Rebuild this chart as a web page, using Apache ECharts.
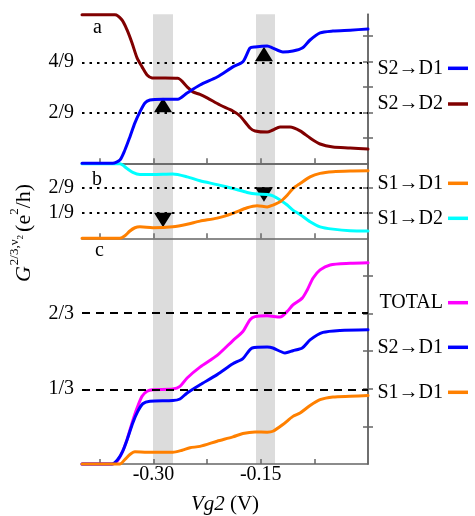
<!DOCTYPE html>
<html><head><meta charset="utf-8">
<script src="https://cdn.jsdelivr.net/npm/echarts@6/dist/echarts.min.js"></script>
<style>html,body{margin:0;padding:0;background:#fff}#c{width:475px;height:516px}</style>
</head><body><div id="c"></div>
<script>
// ---------- data (Vg2 in V, conductance in e^2/h) ----------
// panel a
const xS2D1a = [-0.400,-0.357,-0.347,-0.340,-0.333,-0.326,-0.319,-0.312,-0.305,-0.287,-0.266,-0.253,-0.235,-0.211,-0.189,-0.175,-0.165,-0.158,-0.141,-0.133,-0.119,-0.105,-0.092,-0.081,-0.067,-0.049,-0.025,0.000];
const yS2D1a = [0,0,0.014,0.058,0.115,0.176,0.224,0.263,0.276,0.279,0.279,0.306,0.341,0.376,0.420,0.442,0.502,0.507,0.511,0.502,0.485,0.489,0.502,0.537,0.568,0.576,0.580,0.585];
const xS2D2a = [-0.400,-0.354,-0.344,-0.337,-0.330,-0.323,-0.316,-0.309,-0.302,-0.266,-0.253,-0.245,-0.235,-0.225,-0.207,-0.189,-0.179,-0.165,-0.158,-0.141,-0.133,-0.123,-0.109,-0.095,-0.081,-0.067,-0.049,-0.025,0.000];
const yS2D2a = [0.647,0.647,0.624,0.581,0.524,0.459,0.420,0.385,0.372,0.370,0.333,0.311,0.300,0.285,0.254,0.228,0.206,0.154,0.141,0.136,0.145,0.158,0.158,0.141,0.110,0.084,0.071,0.067,0.062];
// panel b
const xS1D2b = [-0.400,-0.347,-0.337,-0.329,-0.319,-0.301,-0.273,-0.253,-0.235,-0.211,-0.189,-0.169,-0.155,-0.141,-0.133,-0.123,-0.113,-0.105,-0.095,-0.081,-0.067,-0.049,-0.025,0.000];
const yS1D2b = [0.325,0.325,0.304,0.287,0.278,0.278,0.280,0.268,0.251,0.234,0.217,0.200,0.193,0.191,0.185,0.167,0.145,0.123,0.104,0.072,0.050,0.040,0.033,0.032];
const xS1D1b = [-0.400,-0.347,-0.340,-0.333,-0.326,-0.319,-0.301,-0.273,-0.253,-0.235,-0.211,-0.189,-0.169,-0.155,-0.141,-0.133,-0.123,-0.113,-0.105,-0.095,-0.081,-0.067,-0.049,-0.025,0.000];
const yS1D1b = [0,0,0.011,0.032,0.046,0.050,0.046,0.050,0.061,0.075,0.088,0.109,0.133,0.142,0.137,0.145,0.159,0.188,0.217,0.239,0.268,0.283,0.290,0.293,0.294];
// panel c
const xTOTc = [-0.400,-0.358,-0.351,-0.344,-0.337,-0.330,-0.323,-0.316,-0.309,-0.301,-0.273,-0.263,-0.253,-0.235,-0.211,-0.189,-0.175,-0.165,-0.158,-0.141,-0.123,-0.113,-0.105,-0.092,-0.085,-0.077,-0.067,-0.053,-0.025,0.000];
const yTOTc = [0,0,0.012,0.050,0.108,0.182,0.248,0.300,0.322,0.329,0.332,0.344,0.381,0.429,0.481,0.547,0.587,0.639,0.653,0.657,0.651,0.676,0.705,0.735,0.771,0.823,0.860,0.882,0.889,0.892];
const xS2D1c = [-0.400,-0.358,-0.350,-0.343,-0.336,-0.329,-0.322,-0.315,-0.305,-0.273,-0.263,-0.253,-0.235,-0.211,-0.189,-0.175,-0.162,-0.141,-0.133,-0.116,-0.105,-0.092,-0.081,-0.063,-0.039,0.000];
const yS2D1c = [0,0,0.020,0.057,0.116,0.182,0.233,0.267,0.278,0.281,0.288,0.315,0.351,0.396,0.444,0.467,0.514,0.518,0.514,0.492,0.502,0.514,0.550,0.583,0.592,0.595];
const xS1D1c = [-0.400,-0.347,-0.340,-0.333,-0.326,-0.309,-0.273,-0.260,-0.249,-0.235,-0.211,-0.189,-0.175,-0.158,-0.141,-0.133,-0.119,-0.105,-0.095,-0.081,-0.067,-0.049,-0.025,0.000];
const yS1D1c = [0,0,0.020,0.042,0.054,0.052,0.052,0.061,0.072,0.078,0.101,0.120,0.135,0.142,0.141,0.145,0.175,0.211,0.226,0.259,0.285,0.297,0.300,0.303];

// shaded gate-voltage windows and markers
const bandRanges = [[-0.3007,-0.2727],[-0.1566,-0.1301]];
const triX = [-0.2867,-0.1455];
const triUpY = [2/9,4/9];     // panel a, pointing up
const triDownY = [1/9,2/9];   // panel b, pointing down
// reference levels
const refA = [2/9,4/9];
const refB = [1/9,2/9];
const refC = [1/3,2/3];
// ticks and labels
const xTickValues = [-0.375,-0.300,-0.225,-0.150,-0.075];
const xLabelValues = [-0.30,-0.15];
const aTickValues = [1/9,2/9,3/9,4/9,5/9];
const aLabelValues = [2/9,4/9];
const aLabelTexts = ['2/9','4/9'];
const bTickValues = [1/9,2/9];
const bLabelValues = [1/9,2/9];
const bLabelTexts = ['1/9','2/9'];
const cTickValues = [1/6,2/6,3/6,4/6,5/6];
const cLabelValues = [1/3,2/3];
const cLabelTexts = ['1/3','2/3'];
const panelLetters = ['a','b','c'];

// ---------- chart ----------
const FF = '"Liberation Serif","DejaVu Serif","Times New Roman",serif';
const AX = '#666';
const COL = {blue:'#0000ff', dred:'#800000', cyan:'#00ffff', orange:'#ff8000', mag:'#ff00ff'};
const yMax = [0.649, 0.327, 1.0];
const tickVals = [aTickValues,bTickValues,cTickValues];
const labVals = [aLabelValues,bLabelValues,cLabelValues];
const labTxt = [aLabelTexts,bLabelTexts,cLabelTexts];
const pair = (xs,ys) => xs.map((x,i)=>[x,ys[i]]);

const grids = [
  {left:82,right:107,top:14.3,height:149},
  {left:82,right:107,top:163.3,height:75},
  {left:82,right:107,top:238.3,height:226.2}
];

const axLine = {show:true,lineStyle:{color:AX,width:1.5}};
const xAxes = [0,1,2].map(i=>({
  gridIndex:i,type:'value',min:-0.4,max:0,position:'bottom',z:1,
  axisLine:axLine,
  axisTick:{show:true,inside:true,length:5,customValues:xTickValues,lineStyle:{color:AX,width:1.5}},
  axisLabel:{show:i===2,customValues:xLabelValues,formatter:v=>v.toFixed(2),fontFamily:FF,fontSize:20,color:'#000',margin:1},
  splitLine:{show:false},
  name:i===2?'{i|Vg2} (V)':'',nameLocation:'middle',nameGap:30,
  nameTextStyle:{fontFamily:FF,fontSize:21,color:'#000',rich:{i:{fontFamily:FF,fontSize:21,fontStyle:'italic',color:'#000'}}}
}));
xAxes.push({gridIndex:0,type:'value',min:-0.4,max:0,position:'top',z:1,axisLine:axLine,axisTick:{show:false},axisLabel:{show:false},splitLine:{show:false}});

const yAxes = [];
[0,1,2].forEach(i=>{
  yAxes.push({gridIndex:i,type:'value',min:0,max:yMax[i],position:'left',z:1,
    axisLine:axLine,
    axisTick:{show:true,inside:true,length:5,customValues:tickVals[i],lineStyle:{color:AX,width:1.5}},
    axisLabel:{show:true,customValues:labVals[i],margin:8,fontFamily:FF,fontSize:20,color:'#000',
      formatter:v=>{const k=labVals[i].findIndex(u=>Math.abs(u-v)<1e-6);return k>=0?labTxt[i][k]:'';}},
    splitLine:{show:false}});
});
[0,1,2].forEach(i=>{
  yAxes.push({gridIndex:i,type:'value',min:0,max:yMax[i],position:'right',z:1,
    axisLine:axLine,
    axisTick:{show:true,inside:true,length:5,customValues:tickVals[i],lineStyle:{color:AX,width:1.5}},
    axisLabel:{show:false},splitLine:{show:false}});
});

const series = [];
// bands
[0,1,2].forEach(i=>{
  series.push({type:'line',xAxisIndex:i,yAxisIndex:i,data:[],z:0,silent:true,
    markArea:{silent:true,itemStyle:{color:'#dcdcdc'},data:bandRanges.map(r=>[{xAxis:r[0]},{xAxis:r[1]}])}});
});
// reference lines
[[0,refA,[2.5,5]],[1,refB,[2.5,5]],[2,refC,[8,6]]].forEach(([i,vals,dash])=>{
  series.push({type:'line',xAxisIndex:i,yAxisIndex:i,data:[],z:2,silent:true,
    markLine:{silent:true,symbol:'none',label:{show:false},
      lineStyle:{color:'#000',width:2,type:dash},data:vals.map(v=>({yAxis:v}))}});
});
// triangles
series.push({type:'scatter',xAxisIndex:0,yAxisIndex:0,z:3,silent:true,symbol:'triangle',symbolSize:[18,14.5],symbolOffset:[0,-7.2],
  itemStyle:{color:'#000',opacity:1},data:pair(triX,triUpY)});
series.push({type:'scatter',xAxisIndex:1,yAxisIndex:1,z:3,silent:true,symbol:'triangle',symbolRotate:180,symbolSize:[18,14.5],symbolOffset:[0,7.2],
  itemStyle:{color:'#000',opacity:1},data:pair(triX,triDownY)});
// curves
function curve(name,i,xs,ys,color,z){
  return {name,type:'line',xAxisIndex:i,yAxisIndex:i,z:z,data:pair(xs,ys),showSymbol:false,symbol:'none',
    smooth:0.25,clip:false,color,lineStyle:{color,width:3,cap:'round',join:'round'},itemStyle:{color}};
}
series.push(curve('S1→D2',1,xS1D2b,yS1D2b,COL.cyan,4));
series.push(curve('S1→D1',1,xS1D1b,yS1D1b,COL.orange,4));
series.push(curve('S2→D2',0,xS2D2a,yS2D2a,COL.dred,5));
series.push(curve('S2→D1',0,xS2D1a,yS2D1a,COL.blue,5));
series.push(curve('TOTAL',2,xTOTc,yTOTc,COL.mag,4));
series.push(curve('S2→D1',2,xS2D1c,yS2D1c,COL.blue,4));
series.push(curve('S1→D1',2,xS1D1c,yS1D1c,COL.orange,4));

// legends (one per entry, text left of line sample)
const legendSpec = [['S2→D1',68.3],['S2→D2',104],['S1→D1',183.3],['S1→D2',218.3],['TOTAL',302.7],['S2→D1',347.3],['S1→D1',392.3]];
const legends = legendSpec.map(([n,yc])=>({
  data:[n],right:7,top:yc-10,orient:'horizontal',align:'right',padding:0,icon:'rect',itemWidth:20,itemHeight:3.5,
  selectedMode:false,textStyle:{fontFamily:FF,fontSize:20,color:'#000',padding:[0,0,0,0]}
}));

// y-axis title built from pieces (rotated group)
const measure = (t,s,it)=>{const c=document.createElement('canvas').getContext('2d');c.font=(it?'italic ':'')+s+'px '+FF;return c.measureText(t).width;};
const parts = [
  {t:'G',s:22,it:true,dy:0,gap:1},
  {t:'2/3,ν',s:13,dy:-9,gap:0},
  {t:'2',s:9,dy:-3,gap:3},
  {t:'(e',s:22,dy:0,gap:0},
  {t:'2',s:13,dy:-9,gap:0},
  {t:'/h)',s:22,dy:0,gap:0}
];
let pos = 0; const kids = [];
parts.forEach(p=>{kids.push({type:'text',x:pos,y:p.dy,style:{text:p.t,fontFamily:FF,fontSize:p.s,fontStyle:p.it?'italic':'normal',fill:'#000',align:'left',verticalAlign:'middle'}});pos+=measure(p.t,p.s,p.it)+p.gap;});
kids.forEach(k=>{k.x -= pos/2;});

const graphic = [
  {type:'group',x:24,y:233,rotation:Math.PI/2,children:kids},
  {type:'text',x:93,y:28,style:{text:panelLetters[0],fontFamily:FF,fontSize:20,fill:'#000',align:'left',verticalAlign:'middle'}},
  {type:'text',x:92,y:180,style:{text:panelLetters[1],fontFamily:FF,fontSize:20,fill:'#000',align:'left',verticalAlign:'middle'}},
  {type:'text',x:95,y:251,style:{text:panelLetters[2],fontFamily:FF,fontSize:20,fill:'#000',align:'left',verticalAlign:'middle'}}
];

const chart = echarts.init(document.getElementById('c'));
chart.setOption({
  animation:false,backgroundColor:'#fff',
  grid:grids,xAxis:xAxes,yAxis:yAxes,series,legend:legends,graphic
});
</script></body></html>
